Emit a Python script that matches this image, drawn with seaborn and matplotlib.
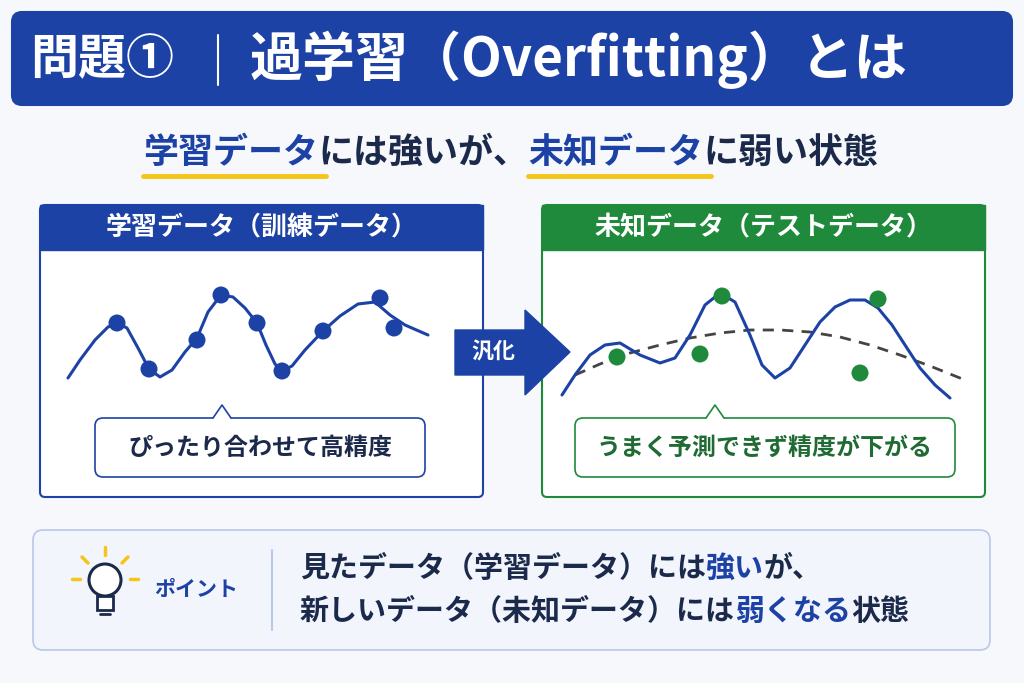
import matplotlib
matplotlib.use("Agg")
import matplotlib.pyplot as plt
import seaborn as sns
from matplotlib.patches import FancyBboxPatch, Polygon, Circle, Rectangle

sns.set_theme(style="white")
plt.rcParams['font.family'] = ['Noto Sans CJK JP', 'DejaVu Sans']

BLUE = '#1d42a6'
GREEN = '#1f8a3b'
NAVY = '#1b2a4a'
YELLOW = '#f5c518'

# --- data (pixel-space readings from the reference) ---
train_x = [117, 149, 197, 221, 257, 282, 323, 380, 394]
train_y = [323, 369, 340, 295, 323, 371, 331, 298, 328]
fit_x = [68, 80, 95, 108, 117, 127, 138, 149, 160, 172, 185, 197, 208, 221, 233, 245, 257, 266, 275, 282,
         292, 305, 323, 340, 358, 375, 390, 405, 428]
fit_y = [378, 360, 340, 327, 323, 328, 348, 369, 377, 370, 352, 338, 312, 295, 297, 308, 323, 345, 364, 371,
         366, 350, 331, 316, 304, 302, 315, 325, 335]
test_x = [617, 700, 722, 860, 878]
test_y = [357, 354, 296, 373, 299]
over_x = [562, 575, 590, 605, 620, 640, 660, 675, 690, 705, 720, 735, 750, 762, 775, 790, 805, 820, 835,
          850, 865, 878, 892, 905, 920, 935, 950]
over_y = [395, 375, 355, 345, 343, 355, 363, 358, 335, 305, 293, 302, 335, 365, 378, 368, 345, 322, 307,
          300, 300, 308, 325, 345, 368, 385, 398]
true_x = [575, 600, 630, 660, 690, 720, 750, 780, 810, 840, 870, 900, 930, 965]
true_y = [375, 364, 353, 345, 338, 333, 330, 330, 332, 337, 345, 355, 366, 380]

title_left = "問題①"
title_right = "過学習（Overfitting）とは"
subtitle = [("学習データ", BLUE), ("には強いが、", NAVY), ("未知データ", BLUE), ("に弱い状態", NAVY)]
left_header = "学習データ（訓練データ）"
right_header = "未知データ（テストデータ）"
left_note = "ぴったり合わせて高精度"
right_note = "うまく予測できず精度が下がる"
point_label = "ポイント"
point_line1 = [("見たデータ（学習データ）には", NAVY), ("強い", BLUE), ("が、", NAVY)]
point_line2 = [("新しいデータ（未知データ）には", NAVY), ("弱くなる", BLUE), ("状態", NAVY)]

fig = plt.figure(figsize=(10.24, 6.83), dpi=100)
fig.patch.set_facecolor('#f7f8fc')
ax = fig.add_axes([0, 0, 1, 1])
ax.set_xlim(0, 1024)
ax.set_ylim(683, 0)
ax.axis('off')

def px(p):  # pixel font size -> points
    return p * 0.72

def rbox(x0, y0, x1, y1, fc, ec, lw=1.5, r=8, z=1):
    ax.add_patch(FancyBboxPatch((x0 + r, y0 + r), x1 - x0 - 2 * r, y1 - y0 - 2 * r,
                                boxstyle=f"round,pad={r}", fc=fc, ec=ec, lw=lw, zorder=z))

def segs(x, y, parts, size, underline=None):
    for text, col in parts:
        ax.text(x, y, text, color=col, fontsize=px(size), fontweight='bold',
                va='center', ha='left', zorder=5)
        w = len(text) * size
        if underline and col == BLUE:
            ax.plot([x, x + w + 8], [y + 24, y + 24], color=underline, lw=3.5, solid_capstyle='round')
        x += w

# title bar
rbox(12, 12, 1012, 105, BLUE, BLUE, r=10)
ax.text(30, 60, title_left, color='white', fontsize=px(48), fontweight='bold', va='center')
ax.plot([218, 218], [35, 85], color='white', lw=1.5)
ax.text(250, 60, title_right, color='white', fontsize=px(53), fontweight='bold', va='center')

# subtitle
segs(143, 152, subtitle, 35, underline=YELLOW)

# panels
for x0, x1, col, head in [(40, 483, BLUE, left_header), (542, 985, GREEN, right_header)]:
    rbox(x0, 205, x1, 497, 'white', col, lw=1.5, r=5)
    ax.add_patch(Rectangle((x0, 205), x1 - x0, 45, fc=col, ec=col, zorder=2))
    ax.text((x0 + x1) / 2, 228, head, color='white', fontsize=px(26), fontweight='bold',
            ha='center', va='center', zorder=5)

# callouts
for x0, x1, tip, col, tcol, note in [(95, 425, 222, BLUE, NAVY, left_note),
                                     (575, 955, 715, GREEN, '#1f6b33', right_note)]:
    rbox(x0, 418, x1, 477, 'white', col, lw=1.2, r=8, z=3)
    ax.add_patch(Polygon([[tip - 9, 419], [tip, 405], [tip + 9, 419]], closed=True,
                         fc='white', ec='none', zorder=4))
    ax.plot([tip - 9, tip, tip + 9], [418, 405, 418], color=col, lw=1.2, zorder=4)
    ax.text((x0 + x1) / 2, 448, note, color=tcol, fontsize=px(24), fontweight='bold',
            ha='center', va='center', zorder=5)

# curves
sns.lineplot(x=fit_x, y=fit_y, sort=False, color=BLUE, lw=2.2, ax=ax, zorder=3)
sns.scatterplot(x=train_x, y=train_y, color=BLUE, s=150, edgecolor='none', ax=ax, zorder=4)
sns.lineplot(x=true_x, y=true_y, sort=False, color='#444444', lw=2, ax=ax, zorder=3,
             linestyle=(0, (4, 3)))
sns.lineplot(x=over_x, y=over_y, sort=False, color=BLUE, lw=2.2, ax=ax, zorder=3)
sns.scatterplot(x=test_x, y=test_y, color=GREEN, s=150, edgecolor='none', ax=ax, zorder=4)

# arrow
ax.add_patch(Polygon([[455, 330], [525, 330], [525, 310], [570, 352], [525, 395],
                      [525, 375], [455, 375]], closed=True, fc=BLUE, ec=BLUE, zorder=3))
ax.text(493, 352, "汎化", color='white', fontsize=px(22), fontweight='bold',
        ha='center', va='center', zorder=5)

# point box
rbox(33, 530, 990, 650, '#f2f5fc', '#b9c7e8', lw=1.2, r=10)
ax.add_patch(Circle((105, 580), 16, fc='white', ec=NAVY, lw=2.2, zorder=4))
ax.add_patch(Rectangle((97, 596), 16, 14, fc='white', ec=NAVY, lw=2, zorder=4))
ax.plot([100, 110], [614, 614], color=NAVY, lw=2, zorder=4)
for x0, y0, x1, y1 in [(105, 547, 105, 555), (82, 557, 88, 563), (128, 557, 122, 563),
                       (72, 579, 80, 579), (130, 579, 138, 579)]:
    ax.plot([x0, x1], [y0, y1], color=YELLOW, lw=2.5, solid_capstyle='round', zorder=4)
ax.text(196, 589, point_label, color=BLUE, fontsize=px(21), fontweight='bold',
        ha='center', va='center')
ax.plot([272, 272], [550, 630], color='#b9c7e8', lw=1.5)
segs(300, 568, point_line1, 29)
segs(300, 611, point_line2, 29)

fig.savefig("out.png", dpi=100, facecolor=fig.get_facecolor())
